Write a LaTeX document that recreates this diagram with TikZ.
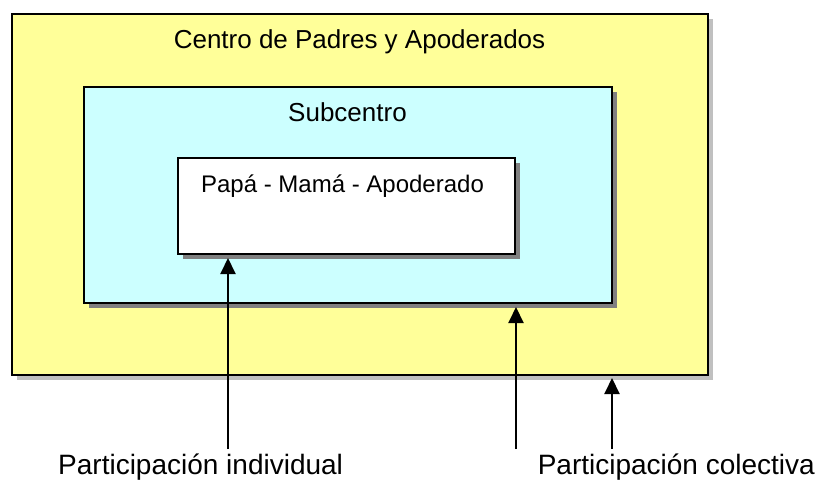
\documentclass[tikz,border=0pt]{standalone}
\usepackage{fontspec}
\setmainfont{Liberation Sans}
\usetikzlibrary{arrows.meta,shadows}
\definecolor{boxyellow}{HTML}{FFFF99}
\definecolor{boxcyan}{HTML}{CCFFFF}
\definecolor{shadowlight}{HTML}{C0C0C0}
\definecolor{shadowdark}{HTML}{808080}
\tikzset{
  panel/.style={draw=black, line width=2pt, rectangle, inner sep=0pt, outer sep=0pt},
  lightshadow/.style={drop shadow={shadow xshift=5pt, shadow yshift=-5pt, fill=shadowlight, opacity=1}},
  darkshadow/.style={drop shadow={shadow xshift=5pt, shadow yshift=-5pt, fill=shadowdark, opacity=1}},
  arr/.style={draw=black, line width=2pt, -{Triangle[width=15pt,length=16pt]}},
  title/.style={font=\fontsize{26}{30}\selectfont, anchor=base, inner sep=0pt},
  small/.style={font=\fontsize{24}{28}\selectfont, anchor=base, inner sep=0pt},
  label/.style={font=\fontsize{28}{32}\selectfont, inner sep=0pt}
}
\begin{document}
\begin{tikzpicture}[x=1pt, y=-1pt]
\useasboundingbox (0,0) rectangle (821,481);
\node[panel, lightshadow, fill=boxyellow, minimum width=696pt, minimum height=361pt] (outer) at (360,194.5) {};
\node[panel, darkshadow, fill=boxcyan, minimum width=528pt, minimum height=216pt] (mid) at (348,195) {};
\node[panel, darkshadow, fill=white, minimum width=337pt, minimum height=96pt] (inner) at (346.5,206) {};
\node[title] (t1) at (359.5,49) {Centro de Padres y Apoderados};
\node[title] (t2) at (347.5,122) {Subcentro};
\node[small] (t3) at (342.5,193) {Papá - Mamá - Apoderado};
\node[label, anchor=base west] (l1) at (58,474) {Participación individual};
\node[label, anchor=base east] (l2) at (815,474) {Participación colectiva};
\coordinate (s1) at (228,449);
\coordinate (s2) at (516,449);
\coordinate (s3) at (612,449);
\draw[arr] (s1) -- ([yshift=-4pt]s1 |- inner.south);
\draw[arr] (s2) -- ([yshift=-4pt]s2 |- mid.south);
\draw[arr] (s3) -- ([yshift=-3pt]s3 |- outer.south);
\end{tikzpicture}
\end{document}
